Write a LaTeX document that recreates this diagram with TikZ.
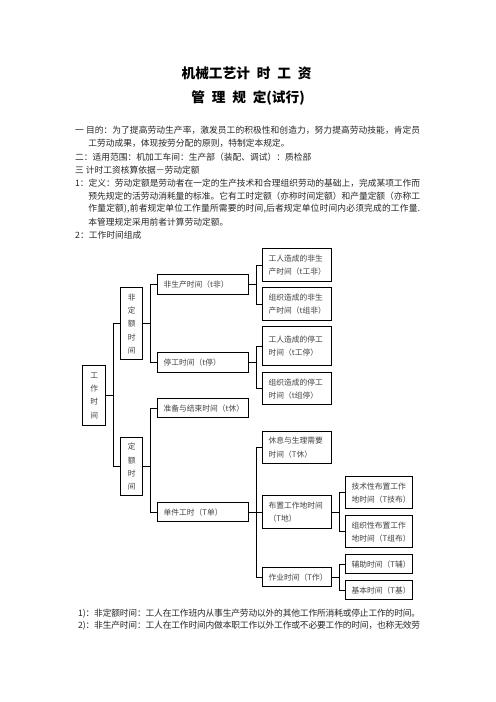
\documentclass[tikz,border=0pt]{standalone}
\usepackage{fontspec}
\newfontfamily\cjk{Noto Sans CJK SC}
\usetikzlibrary{positioning}
% one full text line, spread evenly to the given width
\ExplSyntaxOn
\NewDocumentCommand\fullline{mm}
  {\makebox[#1][s]{\tl_map_inline:nn{#2}{##1\hskip 0pt plus 1pt minus 0.25pt}\unskip}}
\ExplSyntaxOff

\begin{document}
\begin{tikzpicture}[
  x=1.2pt, y=-1.2pt,
  every node/.style={font=\cjk, inner sep=0pt},
  title/.style={font=\cjk\bfseries\fontsize{16.4}{18}\selectfont},
  line/.style={anchor=west, font=\cjk\fontsize{10.5}{12}\selectfont, text=black!85},
  box/.style={draw, line width=1.3pt, anchor=north west, align=left,
    inner xsep=7pt, font=\cjk\fontsize{9.3}{16}\selectfont, text=black!75},
  vbox/.style={box, align=center, inner xsep=0pt},
  cbox/.style={box, text width=94.5pt},
  dbox/.style={box, text width=68pt},
  ebox/.style={box, text width=66.4pt},
  conn/.style={line width=1.1pt},
  fork/.style={to path={-- ++(7.5,0) |- (\tikztotarget)}}
]
\useasboundingbox (0,0) rectangle (496,702);

% heading
\node[title] (t1) at (246.5,73.3) {机械工艺计\enspace 时\enspace 工\enspace 资};
\node[title] (t2) at (248,98.3) {管\enspace 理\enspace 规\enspace 定(试行)};

% text above the chart
\node[line] (l1) at (75,130.7) {\fullline{414pt}{一\ 目的：为了提高劳动生产率，激发员工的积极性和创造力，努力提高劳动技能，肯定员}};
\node[line] (l2) at (88.3,143.7) {工劳动成果，体现按劳分配的原则，特制定本规定。};
\node[line] (l3) at (75,156.8) {二：适用范围：机加工车间：生产部（装配、调试）：质检部};
\node[line] (l4) at (75,169.8) {三 计时工资核算依据－劳动定额};
\node[line] (l5) at (75,182.9) {\fullline{414pt}{1：定义：劳动定额是劳动者在一定的生产技术和合理组织劳动的基础上，完成某项工作而}};
\node[line] (l6) at (88.3,195.9) {\fullline{398pt}{预先规定的活劳动消耗量的标准。它有工时定额（亦称时间定额）和产量定额（亦称工}};
\node[line] (l7) at (88.3,209.0) {\fullline{398pt}{作量定额),前者规定单位工作量所需要的时间,后者规定单位时间内必须完成的工作量.}};
\node[line] (l8) at (88.3,222.0) {本管理规定采用前者计算劳动定额。};
\node[line] (l9) at (75,235.0) {2：工作时间组成};

% chart boxes
\node[vbox, text width=27.6pt, minimum height=72pt] (gz) at (82.3,365) {工\\作\\时\\间};
\node[vbox, text width=26.8pt, minimum height=86.4pt] (fde) at (120,287.3) {非\\定\\额\\时\\间};
\node[vbox, text width=26.8pt, minimum height=69.6pt] (de) at (120,437.3) {定\\额\\时\\间};

\node[cbox, minimum height=24pt] (fsc) at (157.3,274.3) {非生产时间（t非）};
\node[cbox, minimum height=24pt] (tg) at (157.3,352.3) {停工时间（t停）};
\node[cbox, minimum height=22.8pt] (zb) at (157.3,398.3) {准备与结束时间（t休）};
\node[cbox, minimum height=22.8pt] (dj) at (157.3,502.3) {单件工时（T单）};

\node[dbox, minimum height=39.6pt] (grf) at (262.3,248.3) {工人造成的非生\\产时间（t工非）};
\node[dbox, minimum height=39.2pt] (zzf) at (262.3,287.3) {组织造成的非生\\产时间（t组非）};
\node[dbox, minimum height=46.8pt] (grt) at (262.3,326.3) {工人造成的停工\\时间（t工停）};
\node[dbox, minimum height=38.4pt] (zzt) at (262.3,372.3) {组织造成的停工\\时间（t组停）};
\node[dbox, minimum height=38.8pt] (xx) at (262.3,430.7) {休息与生理需要\\时间（T休）};
\node[dbox, minimum height=38.9pt] (bz) at (262.3,495.3) {布置工作地时间\\（T地）};
\node[dbox, minimum height=22.4pt] (zy) at (262.3,567.3) {作业时间（T作）};

\node[ebox, minimum height=38.4pt] (jsb) at (345.3,476.3) {技术性布置工作\\地时间（T技布）};
\node[ebox, minimum height=38.4pt] (zzb) at (345.3,515.3) {组织性布置工作\\地时间（T组布）};
\node[ebox, minimum height=22.4pt] (fz) at (345.3,554.3) {辅助时间（T辅）};
\node[ebox, minimum height=22.8pt] (jb) at (345.3,580.3) {基本时间（T基）};

% connectors
\draw[conn] (gz.east) to[fork] (fde.west) (gz.east) to[fork] (de.west);
\draw[conn] (fde.east) to[fork] (fsc.west) (fde.east) to[fork] (tg.west);
\draw[conn] (de.east) to[fork] (zb.west) (de.east) to[fork] (dj.west);
\draw[conn] (fsc.east) to[fork] (grf.west) (fsc.east) to[fork] (zzf.west);
\draw[conn] (tg.east) to[fork] (grt.west) (tg.east) to[fork] (zzt.west);
\draw[conn] (dj.east) to[fork] (xx.west) (dj.east) to[fork] (bz.west)
  (dj.east) to[fork] (zy.west);
\draw[conn] (bz.east) to[fork] (jsb.west) (bz.east) to[fork] (zzb.west);
\draw[conn] (zy.east) to[fork] (fz.west) (zy.east) to[fork] (jb.west);

% notes below the chart
\node[line] (n1) at (78,613.3) {\fullline{410.4pt}{1)：非定额时间：工人在工作班内从事生产劳动以外的其他工作所消耗或停止工作的时间。}};
\node[line] (n2) at (78,626) {\fullline{410.4pt}{2)：非生产时间：工人在工作时间内做本职工作以外工作或不必要工作的时间，也称无效劳}};
\end{tikzpicture}
\end{document}
